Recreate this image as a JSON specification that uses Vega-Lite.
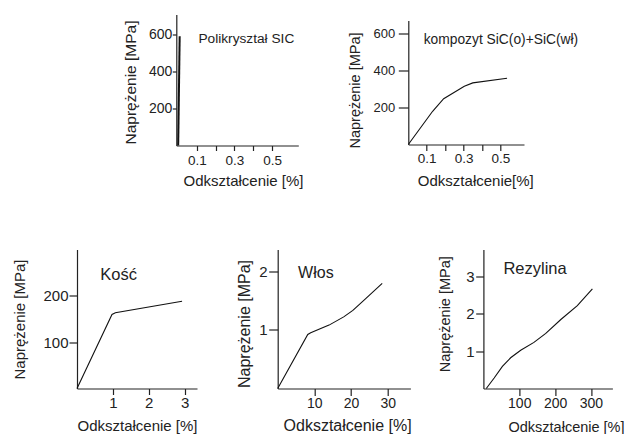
{
  "$schema": "https://vega.github.io/schema/vega-lite/v6.json",
  "background": "white",
  "padding": {"left": 12, "top": 14.5, "right": 0, "bottom": 0},
  "bounds": "flush",
  "spacing": 235,
  "config": {
    "view": {"stroke": null},
    "font": "Liberation Sans",
    "axis": {
      "grid": false,
      "labelFont": "Liberation Sans",
      "titleFont": "Liberation Sans",
      "titleFontWeight": "normal",
      "labelColor": "#222",
      "titleColor": "#222",
      "domainColor": "#222",
      "tickColor": "#222",
      "domainWidth": 1.2,
      "tickWidth": 1.2,
      "labelFlush": false,
      "labelOverlap": false,
      "labelBound": false
    },
    "text": {"font": "Liberation Sans", "color": "#222"}
  },
  "vconcat": [
    {
      "bounds": "flush",
      "spacing": 109.3,
      "hconcat": [
        {
          "width": 221.3,
          "height": 131,
          "encoding": {
            "x": {
              "field": "strain", "type": "quantitative",
              "scale": {"domain": [-0.01, 0.64], "range": [99.3, 221.3], "nice": false, "zero": false},
              "axis": {"title": "Odkształcenie [%]", "values": [0.1, 0.2, 0.3, 0.4, 0.5],
                "labelExpr": "indexof([0.1, 0.3, 0.5], datum.value) >= 0 ? datum.label : ''",
                "tickSize": 5, "labelPadding": 3, "labelFontSize": 13.5,
                "titleFontSize": 15, "titleX": 166, "titleY": 28}
            },
            "y": {
              "field": "stress", "type": "quantitative",
              "scale": {"domain": [0, 708], "nice": false},
              "axis": {"title": "Naprężenie [MPa]", "values": [200, 400, 600], "offset": -99.3,
                "tickSize": 4, "labelPadding": 0.5, "labelFontSize": 14,
                "titleFontSize": 15.5, "titleX": -38, "titleY": 67.5}
            }
          },
          "layer": [
            {
              "data": {"values": [{"strain": 0, "stress": 0}, {"strain": 0.008, "stress": 590}]},
              "mark": {"type": "line", "color": "#111", "strokeWidth": 2}
            },
            {
              "data": {"values": [{"strain": 0.108, "stress": 573, "label": "Polikryształ SIC"}]},
              "mark": {"type": "text", "align": "left", "baseline": "middle", "fontSize": 13.7},
              "encoding": {"text": {"field": "label"}}
            }
          ]
        },
        {
          "width": 115.7,
          "height": 130,
          "encoding": {
            "x": {
              "field": "strain", "type": "quantitative",
              "scale": {"domain": [0, 0.628], "nice": false},
              "axis": {"title": "Odkształcenie[%]", "values": [0.1, 0.2, 0.3, 0.4, 0.5],
                "labelExpr": "indexof([0.1, 0.3, 0.5], datum.value) >= 0 ? datum.label : ''",
                "tickSize": 6, "labelPadding": 1.2, "labelFontSize": 13.5,
                "titleFontSize": 15, "titleX": 67, "titleY": 29}
            },
            "y": {
              "field": "stress", "type": "quantitative",
              "scale": {"domain": [0, 672], "range": [130, 6], "nice": false},
              "axis": {"title": "Naprężenie [MPa]", "values": [200, 400, 600],
                "tickSize": 10, "labelPadding": 3.5, "labelFontSize": 13,
                "titleFontSize": 14.5, "titleX": -45.5, "titleY": 75.5}
            }
          },
          "layer": [
            {
              "data": {"values": [
                {"strain": 0, "stress": 0},
                {"strain": 0.132, "stress": 180},
                {"strain": 0.192, "stress": 248},
                {"strain": 0.304, "stress": 316},
                {"strain": 0.35, "stress": 334},
                {"strain": 0.536, "stress": 359}
              ]},
              "mark": {"type": "line", "color": "#111", "strokeWidth": 1.1}
            },
            {
              "data": {"values": [{"strain": 0.0836, "stress": 569, "label": "kompozyt SiC(o)+SiC(wł)"}]},
              "mark": {"type": "text", "align": "left", "baseline": "middle", "fontSize": 13.8},
              "encoding": {"text": {"field": "label"}}
            }
          ]
        }
      ]
    },
    {
      "bounds": "flush",
      "spacing": 72.7,
      "hconcat": [
        {
          "width": 127.9,
          "height": 139,
          "encoding": {
            "x": {
              "field": "strain", "type": "quantitative",
              "scale": {"domain": [0, 3.347], "range": [0, 120], "nice": false},
              "axis": {"title": "Odkształcenie [%]", "values": [1, 2, 3],
                "tickSize": 6, "labelPadding": 1.2, "labelFontSize": 15,
                "titleFontSize": 15, "titleY": 30}
            },
            "y": {
              "field": "stress", "type": "quantitative",
              "scale": {"domain": [0, 300], "nice": false},
              "axis": {"title": "Naprężenie [MPa]", "values": [100, 200],
                "tickSize": 8, "labelPadding": 1, "labelFontSize": 15,
                "titleFontSize": 15, "titleX": -49.4}
            }
          },
          "layer": [
            {
              "data": {"values": [
                {"strain": 0, "stress": 0},
                {"strain": 0.976, "stress": 159.7},
                {"strain": 1.07, "stress": 163.4},
                {"strain": 2.93, "stress": 188.4}
              ]},
              "mark": {"type": "line", "color": "#111", "strokeWidth": 1.1}
            },
            {
              "data": {"values": [{"strain": 0.65, "stress": 244, "label": "Kość"}]},
              "mark": {"type": "text", "align": "left", "baseline": "middle", "fontSize": 16.5},
              "encoding": {"text": {"field": "label"}}
            }
          ]
        },
        {
          "width": 132.7,
          "height": 139,
          "encoding": {
            "x": {
              "field": "strain", "type": "quantitative",
              "scale": {"domain": [0, 36.19], "nice": false},
              "axis": {"title": "Odkształcenie  [%]", "values": [10, 20, 30],
                "tickSize": 7, "labelPadding": 1.3, "labelFontSize": 14,
                "titleFontSize": 16, "titleX": 69.4, "titleY": 29.2}
            },
            "y": {
              "field": "stress", "type": "quantitative",
              "scale": {"domain": [0, 2.368], "nice": false},
              "axis": {"title": "Naprężenie [MPa]", "values": [1, 2],
                "tickSize": 9, "labelPadding": 1.5, "labelFontSize": 15,
                "titleFontSize": 16, "titleX": -25.7, "titleY": 74}
            }
          },
          "layer": [
            {
              "data": {"values": [
                {"strain": 0, "stress": 0},
                {"strain": 8.2, "stress": 0.92},
                {"strain": 9, "stress": 0.95},
                {"strain": 14, "stress": 1.08},
                {"strain": 18, "stress": 1.22},
                {"strain": 20.5, "stress": 1.33},
                {"strain": 24, "stress": 1.53},
                {"strain": 28.5, "stress": 1.79}
              ]},
              "mark": {"type": "line", "color": "#111", "strokeWidth": 1.1}
            },
            {
              "data": {"values": [{"strain": 5.56, "stress": 1.97, "label": "Włos"}]},
              "mark": {"type": "text", "align": "left", "baseline": "middle", "fontSize": 16},
              "encoding": {"text": {"field": "label"}}
            }
          ]
        },
        {
          "width": 129,
          "height": 139,
          "encoding": {
            "x": {
              "field": "strain", "type": "quantitative",
              "scale": {"domain": [0, 359.8], "nice": false},
              "axis": {"title": "Odkształcenie [%]", "values": [100, 200, 300],
                "tickSize": 7, "labelPadding": 0.7, "labelFontSize": 14,
                "titleFontSize": 14.5, "titleX": 82.6, "titleY": 31.7}
            },
            "y": {
              "field": "stress", "type": "quantitative",
              "scale": {"domain": [0, 3.707], "nice": false},
              "axis": {"title": "Naprężenie [MPa]", "values": [1, 2, 3],
                "tickSize": 7.7, "labelPadding": 1.7, "labelFontSize": 15,
                "titleFontSize": 14.5, "titleX": -30.9, "titleY": 64.2}
            }
          },
          "layer": [
            {
              "data": {"values": [
                {"strain": 8, "stress": 0},
                {"strain": 30, "stress": 0.28},
                {"strain": 53, "stress": 0.59},
                {"strain": 76, "stress": 0.82},
                {"strain": 104, "stress": 1.02},
                {"strain": 141, "stress": 1.23},
                {"strain": 174, "stress": 1.47},
                {"strain": 216, "stress": 1.84},
                {"strain": 262, "stress": 2.21},
                {"strain": 304, "stress": 2.66}
              ]},
              "mark": {"type": "line", "color": "#111", "strokeWidth": 1.1}
            },
            {
              "data": {"values": [{"strain": 55.8, "stress": 3.19, "label": "Rezylina"}]},
              "mark": {"type": "text", "align": "left", "baseline": "middle", "fontSize": 16.5},
              "encoding": {"text": {"field": "label"}}
            }
          ]
        }
      ]
    }
  ]
}
